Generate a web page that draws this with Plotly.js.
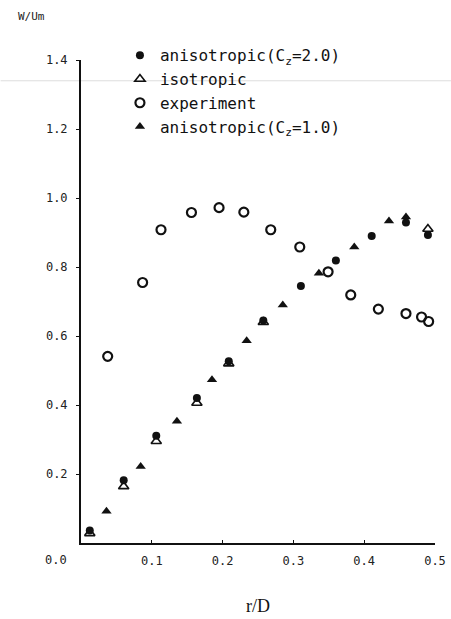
<!DOCTYPE html>
<html>
<head>
<meta charset="utf-8">
<script src="https://cdn.plot.ly/plotly-3.0.1.min.js"></script>
<style>
html,body{margin:0;padding:0;background:#fff;}
#chart{width:451px;height:619px;}
</style>
</head>
<body>
<div id="chart"></div>
<script>
// anisotropic (C_z = 2.0) — filled circles
const aniso2X = [0.0124, 0.0603, 0.1063, 0.1637, 0.2087, 0.2575, 0.3106, 0.360, 0.4106, 0.459, 0.490];
const aniso2Y = [0.036, 0.182, 0.311, 0.420, 0.527, 0.645, 0.745, 0.819, 0.890, 0.929, 0.893];
// isotropic — open triangles
const isoX = [0.0124, 0.0603, 0.1063, 0.1637, 0.2087, 0.2575, 0.490];
const isoY = [0.028, 0.164, 0.295, 0.406, 0.520, 0.640, 0.910];
// experiment — open circles
const expX = [0.0377, 0.087, 0.113, 0.156, 0.195, 0.230, 0.268, 0.309, 0.349, 0.381, 0.420, 0.459, 0.481, 0.491];
const expY = [0.541, 0.755, 0.908, 0.958, 0.972, 0.959, 0.908, 0.858, 0.786, 0.719, 0.678, 0.665, 0.655, 0.642];
// anisotropic (C_z = 1.0) — filled triangles
const aniso1X = [0.036, 0.0843, 0.1355, 0.185, 0.234, 0.285, 0.336, 0.386, 0.435, 0.459];
const aniso1Y = [0.092, 0.222, 0.353, 0.473, 0.586, 0.690, 0.782, 0.858, 0.933, 0.945];

const xTicks = [0.1, 0.2, 0.3, 0.4, 0.5];
const yTicks = [0.2, 0.4, 0.6, 0.8, 1.0, 1.2, 1.4];

const names = ['anisotropic(C<sub>z</sub>=2.0)', 'isotropic', 'experiment', 'anisotropic(C<sub>z</sub>=1.0)'];

const mono = 'DejaVu Sans Mono, Liberation Mono, monospace';

const traces = [
  {x: isoX, y: isoY, name: names[1], mode: 'markers', type: 'scatter',
   marker: {symbol: 'triangle-up-open', size: 9, color: '#111', line: {width: 1.6, color: '#111'}}, legendrank: 2},
  {x: expX, y: expY, name: names[2], mode: 'markers', type: 'scatter',
   marker: {symbol: 'circle-open', size: 9, color: '#111', line: {width: 2.2, color: '#111'}}, legendrank: 3},
  {x: aniso1X, y: aniso1Y, name: names[3], mode: 'markers', type: 'scatter',
   marker: {symbol: 'triangle-up', size: 9, color: '#111'}, legendrank: 4},
  {x: aniso2X, y: aniso2Y, name: names[0], mode: 'markers', type: 'scatter',
   marker: {symbol: 'circle', size: 8, color: '#111'}, legendrank: 1}
];

const layout = {
  width: 451, height: 619,
  margin: {l: 80.5, r: 16, t: 60, b: 75.5},
  paper_bgcolor: '#fff', plot_bgcolor: '#fff',
  showlegend: true,
  legend: {x: 0.11, y: 1.045, xanchor: 'left', yanchor: 'top',
           font: {family: mono, size: 16, color: '#111'},
           bgcolor: 'rgba(0,0,0,0)', traceorder: 'normal'},
  xaxis: {range: [0, 0.5], tickvals: xTicks, tickformat: '.1f',
          showgrid: false, zeroline: false, showline: true, linecolor: '#111', linewidth: 1.6,
          ticks: 'inside', ticklen: 3, tickcolor: '#111',
          tickfont: {family: mono, size: 12, color: '#222'}, ticklabelstandoff: 6},
  yaxis: {range: [0, 1.4], tickvals: yTicks, tickformat: '.1f',
          showgrid: false, zeroline: false, showline: true, linecolor: '#111', linewidth: 2,
          ticks: 'outside', ticklen: 3, tickcolor: '#111',
          tickfont: {family: mono, size: 12, color: '#222'}, ticklabelstandoff: 6},
  shapes: [
    {type: 'line', xref: 'paper', yref: 'paper', x0: -0.227, x1: 1.045, y0: 0.957, y1: 0.957,
     line: {color: '#dddddd', width: 1}, layer: 'below'}
  ],
  annotations: [
    {text: 'W/Um', xref: 'paper', yref: 'paper', x: -0.185, y: 1.091, xanchor: 'left', yanchor: 'middle',
     showarrow: false, font: {family: mono, size: 11, color: '#222'}},
    {text: '0.0', xref: 'paper', yref: 'paper', x: -0.072, y: -0.035, xanchor: 'center', yanchor: 'middle',
     showarrow: false, font: {family: mono, size: 12, color: '#222'}},
    {text: 'r/D', xref: 'paper', yref: 'paper', x: 0.5, y: -0.131, xanchor: 'center', yanchor: 'middle',
     showarrow: false, font: {family: 'Liberation Serif, DejaVu Serif, serif', size: 18, color: '#111'}}
  ]
};

Plotly.newPlot('chart', traces, layout, {displayModeBar: false, staticPlot: true});
</script>
</body>
</html>
